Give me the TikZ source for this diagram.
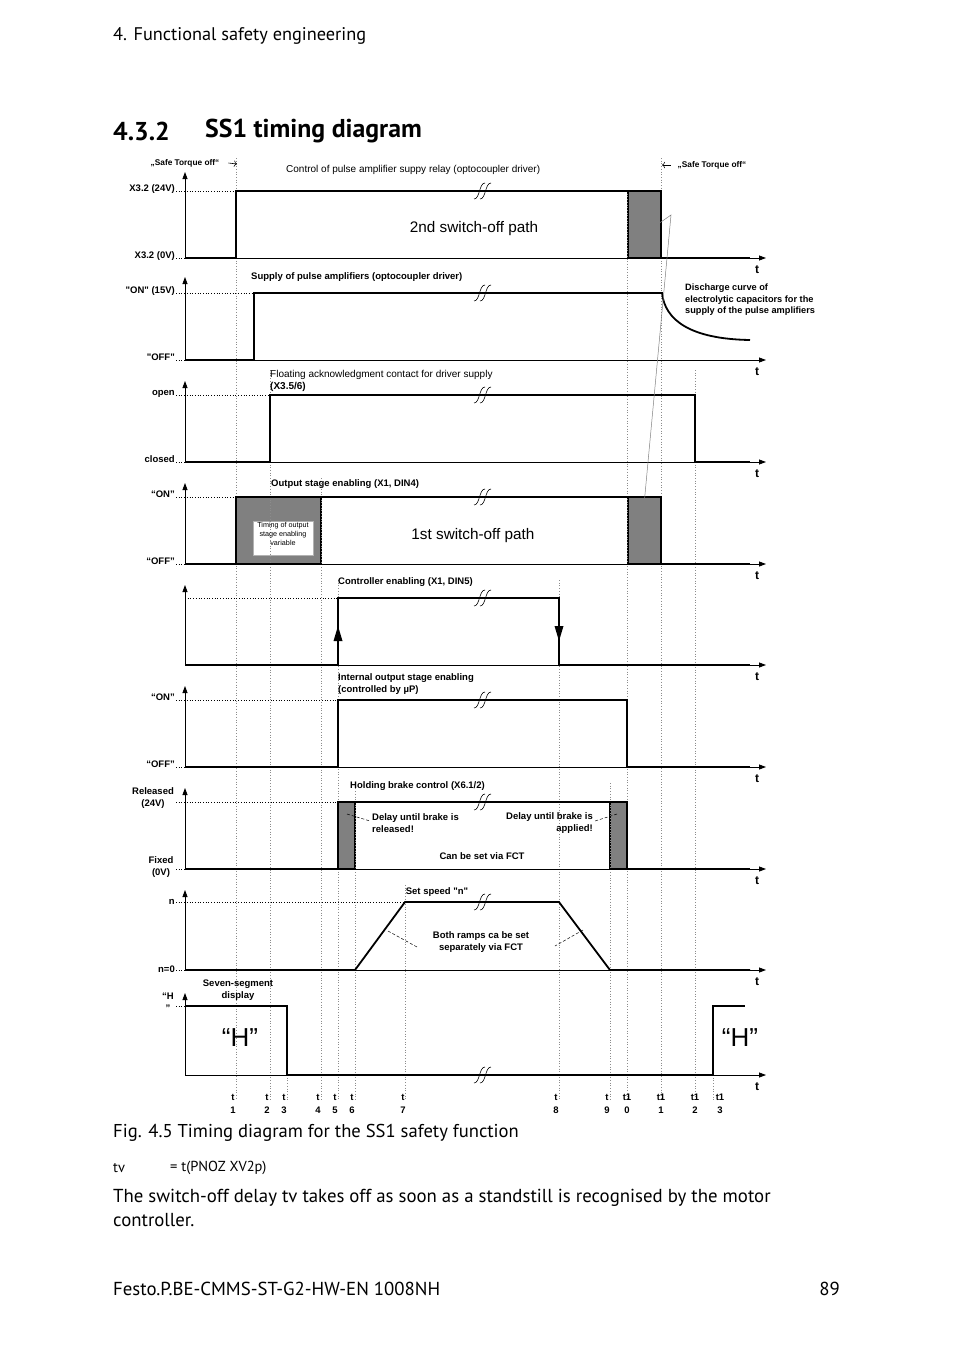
\documentclass[tikz,border=0pt]{standalone}
\usepackage{fontspec}
\setmainfont{PT Sans}
\newfontfamily\diafont{Liberation Sans}
\usetikzlibrary{arrows.meta}
\definecolor{boxgrey}{HTML}{808080}
\definecolor{markgrey}{HTML}{8c8c8c}

\begin{document}
\begin{tikzpicture}[x=1pt, y=-1pt,
    sig/.style={line width=1.8pt, line join=miter},
    axis/.style={line width=0.8pt, -{Triangle[length=7pt,width=5pt]}},
    lvl/.style={dotted, line width=0.7pt},
    vmark/.style={markgrey, dotted, line width=0.7pt},
    gbox/.style={fill=boxgrey, draw=black, line width=1.6pt},
    lead/.style={densely dashed, line width=0.5pt},
    thin/.style={gray, line width=0.5pt},
    dtxt/.style={font=\diafont\bfseries\fontsize{9.5}{12}\selectfont, inner sep=0pt},
    dreg/.style={font=\diafont\fontsize{10}{12}\selectfont, inner sep=0pt},
    lvlbl/.style={dtxt, anchor=base east},
    tlab/.style={font=\diafont\bfseries\fontsize{12}{12}\selectfont, inner sep=0pt},
    blab/.style={font=\diafont\bfseries\fontsize{9.5}{9.5}\selectfont, inner sep=0pt},
    big/.style={font=\diafont\fontsize{26}{26}\selectfont, inner sep=0pt},
    page/.style={font=\fontsize{18.8}{24}\selectfont, inner sep=0pt, anchor=west, align=left},
    brk/.pic={
      \draw[line width=0.6pt] (-9,8) .. controls (-3,8) and (-4,-8) .. (2,-8);
      \draw[line width=0.6pt] (-3,8) .. controls (3,8) and (2,-8) .. (8,-8);
    }
  ]
  \useasboundingbox (0,0) rectangle (954,1350);

  % page text
  \node[page, font=\fontsize{18.3}{24}\selectfont] (hdr) at (113,36) {4. Functional safety engineering};
  \node[page, font=\bfseries\fontsize{25.8}{26}\selectfont] (secno) at (113,131) {4.3.2};
  \node[page, font=\bfseries\fontsize{25.8}{26}\selectfont] (sectitle) at (205,131) {SS1 timing diagram};

  % grey boxes
  \draw[gbox] (628,191) rectangle (661,258);
  \draw[gbox] (236,497) rectangle (321,564);
  \draw[gbox] (628,497) rectangle (661,564);
  \draw[gbox] (338,802) rectangle (355,869);
  \draw[gbox] (610,802) rectangle (627,869);
  \draw[fill=white, draw=gray!60, line width=0.6pt] (253,521) rectangle (313,555);

  % time marks
  \foreach \x/\s in {236/158,270/370,287/1075,321/478,338/580,355/783,405/885,
                     559/580,610/783,627/191,661/158,695/370,713/1075}
    \draw[vmark] (\x,\s) -- (\x,1100);

  % axes of the nine rows
  \foreach \top/\lo [count=\i] in {172/258,277/360,381/462,483/564,585/665,
                                   686/767,788/869,890/970,993/1075} {
    \draw[axis] (185,\lo) -- (185,\top);
    \draw[axis] (185,\lo) -- (766,\lo);
    \node[tlab] (t-\i) at (757,\lo+12) {t};
  }

  % level dots
  \draw[lvl] (176,191) -- (236,191);  \draw[lvl] (176,258) -- (185,258);
  \draw[lvl] (176,293) -- (254,293);  \draw[lvl] (176,360) -- (185,360);
  \draw[lvl] (176,395) -- (270,395);  \draw[lvl] (176,462) -- (185,462);
  \draw[lvl] (176,497) -- (236,497);  \draw[lvl] (176,564) -- (185,564);
  \draw[lvl] (185,598) -- (338,598);
  \draw[lvl] (176,700) -- (338,700);  \draw[lvl] (176,767) -- (185,767);
  \draw[lvl] (176,802) -- (338,802);  \draw[lvl] (176,869) -- (185,869);
  \draw[lvl] (176,902) -- (405,902);  \draw[lvl] (176,970) -- (185,970);
  \draw[lvl] (176,1006) -- (185,1006);

  % signals
  \draw[sig] (185,258) -- (236,258) -- (236,191) -- (661,191) -- (661,258) -- (750,258);
  \draw[sig] (185,360) -- (254,360) -- (254,293) -- (662,293)
    .. controls (665,320) and (690,339) .. (750,340);
  \draw[sig] (185,462) -- (270,462) -- (270,395) -- (695,395) -- (695,462) -- (750,462);
  \draw[sig] (185,564) -- (236,564) -- (236,497) -- (661,497) -- (661,564) -- (750,564);
  \draw[sig] (185,665) -- (338,665) -- (338,598) -- (559,598) -- (559,665) -- (750,665);
  \fill (338,626) -- (333.5,641) -- (342.5,641) -- cycle;
  \fill (559,641) -- (554.5,626) -- (563.5,626) -- cycle;
  \draw[sig] (185,767) -- (338,767) -- (338,700) -- (627,700) -- (627,767) -- (750,767);
  \draw[sig] (185,869) -- (338,869) -- (338,802) -- (627,802) -- (627,869) -- (750,869);
  \draw[sig] (185,970) -- (355,970) -- (405,902) -- (559,902) -- (610,970) -- (750,970);
  \draw[sig] (185,1006) -- (287,1006) -- (287,1075) -- (713,1075) -- (713,1006) -- (745,1006);

  % breaks
  \foreach \y in {191,293,395,497,598,700,802,902,1075}
    \pic at (483,\y) {brk};

  % leader between the two switch-off paths
  \draw[thin] (645,233) -- (671,215) -- (644,505);

  % safe torque off
  \node[dtxt, font=\diafont\bfseries\fontsize{8.3}{8.3}\selectfont] (sto-on) at (185,163) {„Safe Torque off“};
  \coordinate (sto-on-tip) at (237,164);
  \draw[-{To[length=3pt]}, line width=0.6pt] ([xshift=9pt]sto-on.east) -- (sto-on-tip);
  \node[dtxt, font=\diafont\bfseries\fontsize{8.3}{8.3}\selectfont] (sto-off) at (712,165) {„Safe Torque off“};
  \coordinate (sto-off-tip) at (662,165);
  \draw[-{To[length=3pt]}, line width=0.6pt] ([xshift=-7pt]sto-off.west) -- (sto-off-tip);

  % level labels
  \node[lvlbl] (l1h) at (175,191) {X3.2 (24V)};
  \node[lvlbl] (l1l) at (175,258) {X3.2 (0V)};
  \node[lvlbl] (l2h) at (175,293) {"ON" (15V)};
  \node[lvlbl] (l2l) at (175,360) {"OFF"};
  \node[lvlbl] (l3h) at (175,395) {open};
  \node[lvlbl] (l3l) at (175,462) {closed};
  \node[lvlbl] (l4h) at (175,497) {“ON”};
  \node[lvlbl] (l4l) at (175,564) {“OFF”};
  \node[lvlbl] (l6h) at (175,700) {“ON”};
  \node[lvlbl] (l6l) at (175,767) {“OFF”};
  \node[dtxt, align=center] (l7h) at (153,798) {Released\\(24V)};
  \node[dtxt, align=center] (l7l) at (161,867) {Fixed\\(0V)};
  \node[lvlbl] (l8h) at (175,904) {n};
  \node[lvlbl] (l8l) at (175,972) {n=0};
  \node[dtxt, align=center] (l9h) at (168,1002) {“H\\”};

  % row titles
  \node[dreg, anchor=west] (r1) at (286,170) {Control of pulse amplifier suppy relay (optocoupler driver)};
  \node[dtxt, anchor=west] (r2) at (251,277) {Supply of pulse amplifiers (optocoupler driver)};
  \node[dreg, anchor=west, align=left] (r3) at (270,381) {Floating acknowledgment contact for driver supply\\\textbf{(X3.5/6)}};
  \node[dtxt, anchor=west] (r4) at (271,484) {Output stage enabling (X1, DIN4)};
  \node[dtxt, anchor=west] (r5) at (338,582) {Controller enabling (X1, DIN5)};
  \node[dtxt, anchor=west, align=left] (r6) at (338,684) {Internal output stage enabling\\(controlled by µP)};
  \node[dtxt, anchor=west] (r7) at (350,786) {Holding brake control (X6.1/2)};
  \node[dtxt] (r8) at (437,892) {Set speed "n"};
  \node[dtxt, align=center] (r9) at (238,990) {Seven-segment\\display};

  % texts inside rows
  \node[dreg, font=\diafont\fontsize{15.3}{15}\selectfont] (path2) at (474,229) {2nd switch-off path};
  \node[dreg, font=\diafont\fontsize{15.3}{15}\selectfont] (path1) at (473,536) {1st switch-off path};
  \node[dreg, font=\diafont\fontsize{7.2}{9}\selectfont, align=center] (timing) at (283,534) {Timing of output\\stage enabling\\variable};
  \node[dtxt, font=\diafont\bfseries\fontsize{9.2}{11.5}\selectfont, anchor=west, align=left] (dis) at (685,300)
    {Discharge curve of\\electrolytic capacitors for the\\supply of the pulse amplifiers};
  \node[dtxt, anchor=west, align=left] (brk-rel) at (372,823) {Delay until brake is\\released!};
  \node[dtxt, anchor=east, align=right] (brk-app) at (593,823) {Delay until brake is\\applied!};
  \node[dtxt] (fct) at (482,856) {Can be set via FCT};
  \node[dtxt, align=center] (ramps) at (481,942) {Both ramps ca be set\\separately via FCT};
  \node[big] (disp-a) at (240,1038) {“H”};
  \node[big] (disp-b) at (740,1038) {“H”};

  % leaders
  \coordinate (lb1) at (347,814);  \coordinate (lb2) at (617,814);
  \coordinate (lr1) at (388,931);  \coordinate (lr2) at (583,930);
  \draw[lead] (lb1) -- ([xshift=-2pt,yshift=2pt]brk-rel.west);
  \draw[lead] (lb2) -- ([xshift=2pt,yshift=2pt]brk-app.east);
  \draw[lead] (lr1) -- (417,947);
  \draw[lead] (lr2) -- (555,946);

  % time labels
  \foreach \x/\a/\b in {233/t/1,267/t/2,284/t/3,318/t/4,335/t/5,352/t/6,403/t/7,
                        556/t/8,607/t/9,627/t1/0,661/t1/1,695/t1/2,720/t1/3} {
    \node[blab] (ta-\x) at (\x,1097) {\a};
    \node[blab] (tb-\x) at (\x,1110) {\b};
  }

  % caption and text
  \node[page, font=\fontsize{18.6}{24}\selectfont] (cap) at (113,1133) {Fig. 4.5 Timing diagram for the SS1 safety function};
  \node[page, font=\fontsize{14.5}{14}\selectfont] (tv) at (113,1168) {tv};
  \node[page, font=\fontsize{14.5}{14}\selectfont] (tveq) at (170,1168) {= t(PNOZ XV2p)};
  \node[page, anchor=north west] (para) at (113,1189) {The switch-off delay tv takes off as soon as a standstill is recognised by the motor\\controller.};
  \node[page] (foot) at (113,1289) {Festo.P.BE-CMMS-ST-G2-HW-EN 1008NH};
  \node[page, anchor=east] (pageno) at (840,1289) {89};
\end{tikzpicture}
\end{document}
